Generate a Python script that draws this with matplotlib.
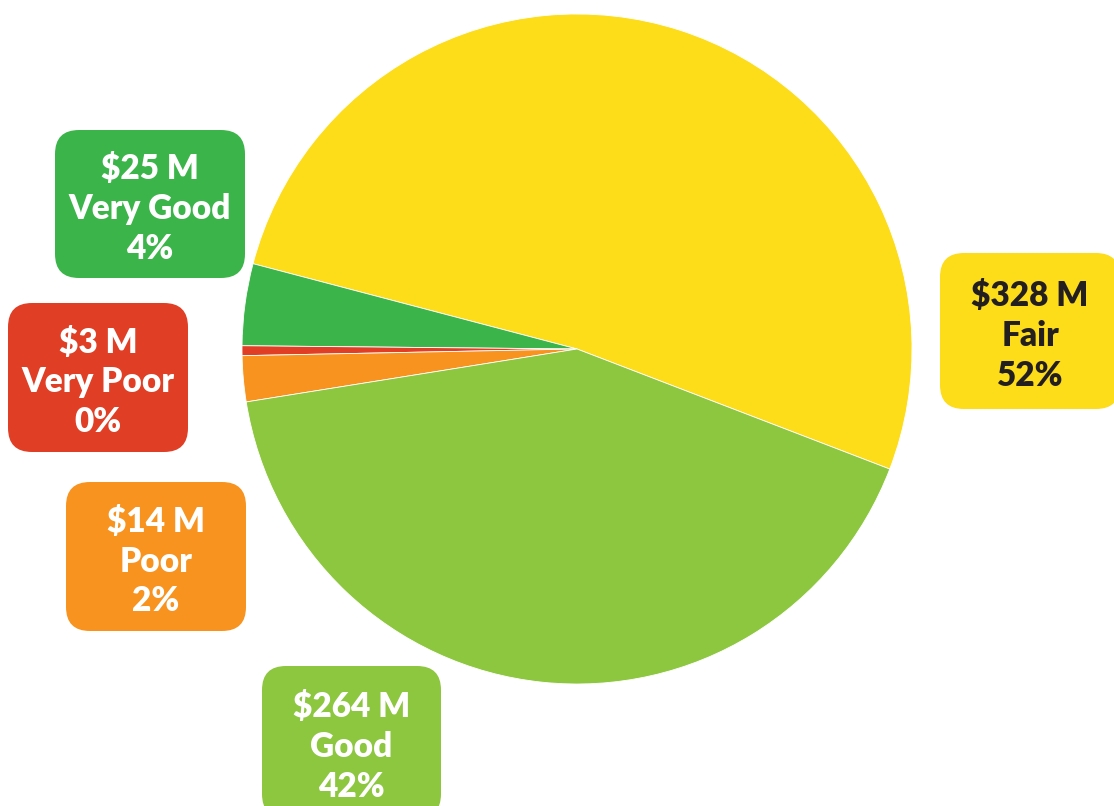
import matplotlib.pyplot as plt
from matplotlib.patches import FancyBboxPatch

# data
categories = ['Fair', 'Very Good', 'Very Poor', 'Poor', 'Good']
values = [328, 25, 3, 14, 264]
amount_labels = ['$328 M', '$25 M', '$3 M', '$14 M', '$264 M']
pct_labels = ['52%', '4%', '0%', '2%', '42%']
colors = ['#FDDC1A', '#3BB54A', '#E03E25', '#F7931E', '#8DC63F']
text_colors = ['#231F20', 'white', 'white', 'white', 'white']

# label boxes: left, bottom, width, height (pixel coords, y up)
box_pos = {
    'Fair': (940, 397, 180, 156),
    'Very Good': (55, 528, 190, 148),
    'Very Poor': (8, 354, 180, 149),
    'Poor': (66, 175, 180, 149),
    'Good': (262, -12, 179, 152),
}

plt.rcParams['font.family'] = ['Lato', 'DejaVu Sans']

fig = plt.figure(figsize=(11.14, 8.06), dpi=100)
ax = fig.add_axes([0, 0, 1, 1])

ax.pie(values, colors=colors, startangle=-21, counterclock=True,
       center=(577, 457), radius=335,
       wedgeprops=dict(edgecolor='white', linewidth=0.6))
ax.set_xlim(0, 1114)
ax.set_ylim(0, 806)
ax.set_aspect('equal')
ax.axis('off')

for cat, amt, pct, col, tc in zip(categories, amount_labels, pct_labels, colors, text_colors):
    x0, y0, w, h = box_pos[cat]
    r = 24
    box = FancyBboxPatch((x0 + r, y0 + r), w - 2 * r, h - 2 * r,
                         boxstyle=f'round,pad={r}', facecolor=col, edgecolor='none')
    ax.add_patch(box)
    ax.text(x0 + w / 2, y0 + h / 2 - 5, f'{amt}\n{cat}\n{pct}',
            ha='center', va='center', fontsize=24, fontweight='heavy',
            color=tc, linespacing=1.3)

fig.savefig('out.png', dpi=100)
